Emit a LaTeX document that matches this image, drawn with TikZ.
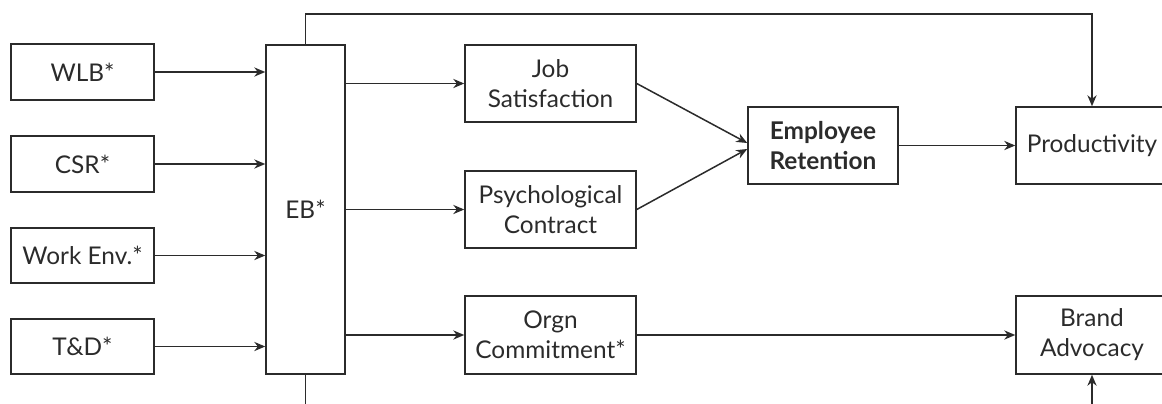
\documentclass[tikz,border=0pt]{standalone}
\usepackage{fontspec}
\setmainfont{Lato}
\usetikzlibrary{arrows.meta,calc}
\definecolor{ink}{HTML}{2B2B2B}
\begin{document}
\begin{tikzpicture}[x=0.5pt,y=-0.5pt,
  box/.style={draw=ink,line width=0.75pt,rectangle,inner sep=0pt,align=center,text=ink,font=\fontsize{12.2}{15}\selectfont},
  conn/.style={draw=ink,line width=0.75pt,-{Stealth[length=5.5pt,width=4.6pt]}},
  plain/.style={draw=ink,line width=0.75pt}]
\useasboundingbox (0,0) rectangle (1162,403);
\clip (0,0) rectangle (1162,403);
\node[box,minimum width=71.5pt,minimum height=28pt] (wlb) at (82.5,72) {WLB*};
\node[box,minimum width=71.5pt,minimum height=28pt] (csr) at (82.5,164) {CSR*};
\node[box,minimum width=71.5pt,minimum height=27.5pt] (env) at (82.5,255.5) {Work Env.*};
\node[box,minimum width=71.5pt,minimum height=27.5pt] (td) at (82.5,346.5) {T\&D*};
\node[box,minimum width=39.5pt,minimum height=164.5pt] (eb) at (305.5,209.5) {EB*};
\node[box,minimum width=85.5pt,minimum height=38.5pt] (js) at (550.5,83.5) {Job\\Satisfaction};
\node[box,minimum width=85.5pt,minimum height=38.5pt] (pc) at (550.5,209.5) {Psychological\\Contract};
\node[box,minimum width=85.5pt,minimum height=39pt] (oc) at (550.5,335) {Orgn\\Commitment*};
\node[box,minimum width=75pt,minimum height=38.5pt,font=\fontsize{12.2}{15}\selectfont\bfseries] (er) at (823,145.5) {Employee\\Retention};
\node[box,minimum width=76pt,minimum height=38.5pt] (prod) at (1092,145.5) {Productivity};
\node[box,minimum width=76pt,minimum height=39pt] (ba) at (1092,335) {Brand\\Advocacy};
\coordinate (top) at (305.5,14);
\coordinate (ebbot) at (305.5,410);
\coordinate (babot) at (1092,410);
\coordinate (erin1) at ($(er.west)+(0,-2.5)$);
\coordinate (erin2) at ($(er.west)+(0,3.5)$);
\foreach \n in {wlb,csr,env,td} \draw[conn] (\n.east) -- (\n.east -| eb.west);
\draw[conn] (js.west -| eb.east) -- (js.west);
\draw[conn] (pc.west -| eb.east) -- (pc.west);
\draw[conn] (oc.west -| eb.east) -- (oc.west);
\draw[conn] (js.east) -- (erin1);
\draw[conn] (pc.east) -- (erin2);
\draw[conn] (er.east) -- (prod.west);
\draw[conn] (oc.east) -- (ba.west);
\draw[conn] (eb.north) -- (top) -| (prod.north);
\draw[plain] (eb.south) -- (ebbot);
\draw[conn] (babot) -- (ba.south);
\end{tikzpicture}
\end{document}
